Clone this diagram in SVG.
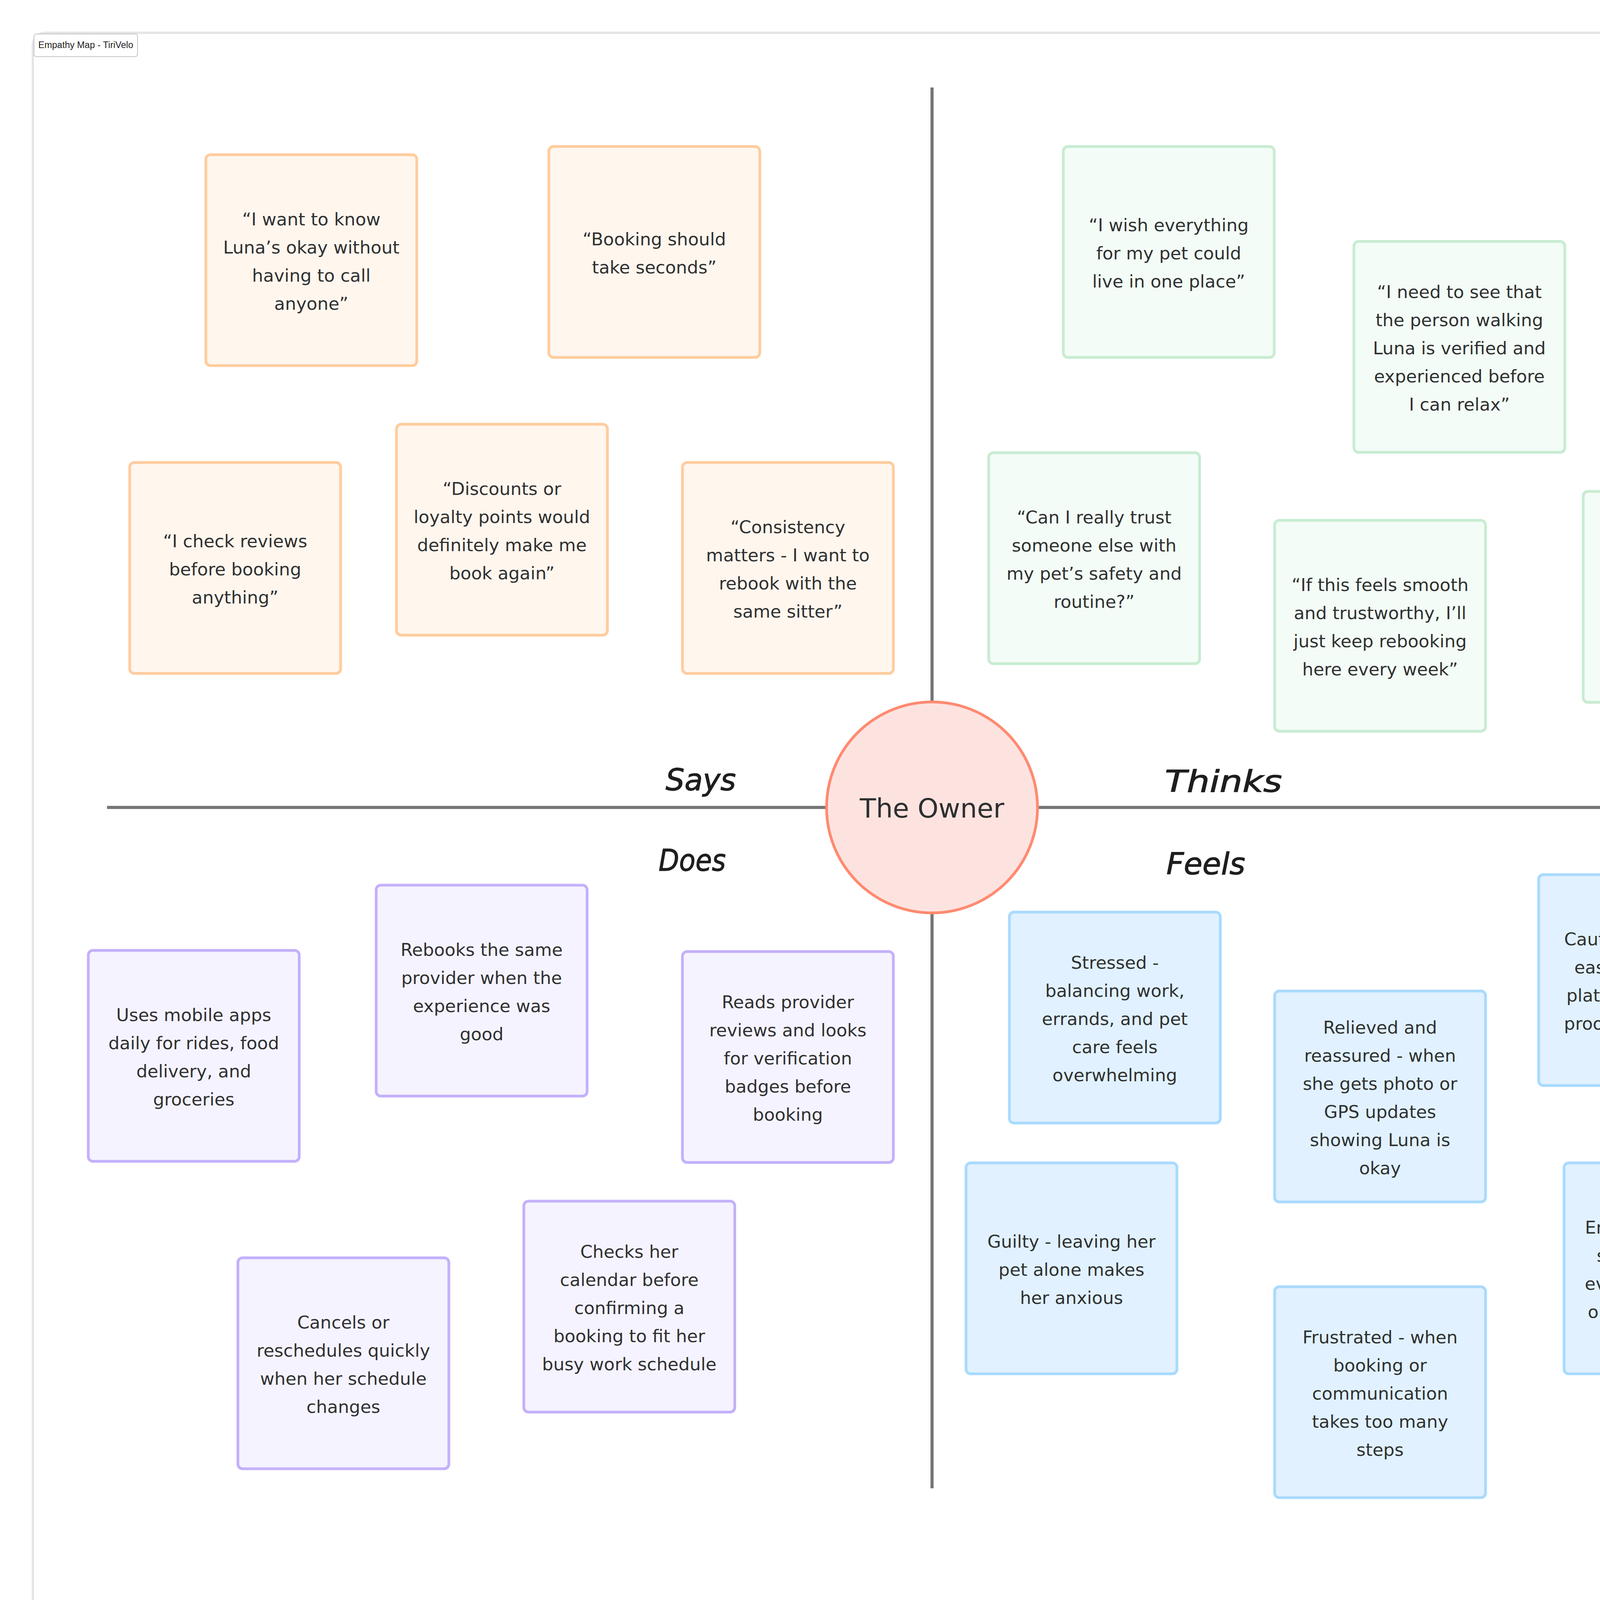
<svg xmlns="http://www.w3.org/2000/svg" width="4822" height="4626" viewBox="0 0 4822 4626">
<style>
.note rect{stroke-width:7}
.note text{font-family:"DejaVu Sans","Noto Sans",sans-serif;font-size:45px;fill:#2f3131;text-anchor:middle}
.says rect{fill:#fff6ee;stroke:#ffcc9e}
.thinks rect{fill:#f3fcf6;stroke:#c8ecd2}
.does rect{fill:#f5f3ff;stroke:#c4b0fb}
.feels rect{fill:#e1f1ff;stroke:#a9dafe}
.axis{stroke:#767676;stroke-width:8;fill:none}
.quad{font-family:"DejaVu Sans",sans-serif;font-style:oblique;font-size:76px;fill:#1e1e1e;stroke:#1e1e1e;stroke-width:1.5}
.para{font-family:"DejaVu Sans","Noto Sans",sans-serif;font-size:61px;fill:#1e1e1e;text-anchor:middle}
</style>
<rect width="4822" height="4626" fill="#ffffff"/>
<g id="frame">
<rect x="84" y="84" width="4654" height="4457" rx="32" fill="#ffffff" stroke="#e5e5e5" stroke-width="6"/>
<rect x="87" y="87" width="265" height="58" rx="6" fill="#ffffff" stroke="#c6c6c6" stroke-width="2"/>
<text x="98" y="123" font-family="Liberation Sans, Arial, sans-serif" font-size="23" fill="#1e1e1e" textLength="243" lengthAdjust="spacingAndGlyphs">Empathy Map - TiriVelo</text>
</g>
<g id="connectors">
<line class="axis" x1="2386" y1="224" x2="2386" y2="3810"/>
<line class="axis" x1="274" y1="2067" x2="4450" y2="2067"/>
</g>
<g id="owner">
<circle cx="2386" cy="2067" r="270" fill="#fde3e0" stroke="#ff8a70" stroke-width="7"/>
<text x="2386" y="2093" font-family="DejaVu Sans, sans-serif" font-size="68" fill="#2d2f2f" text-anchor="middle">The Owner</text>
</g>
<g id="quadrant-labels">
<text id="label-says" class="quad" x="1704" y="2023" textLength="180" lengthAdjust="spacingAndGlyphs">Says</text>
<text id="label-thinks" class="quad" x="2982" y="2027" textLength="300" lengthAdjust="spacingAndGlyphs">Thinks</text>
<text id="label-does" class="quad" x="1686" y="2229" textLength="172" lengthAdjust="spacingAndGlyphs">Does</text>
<text id="label-feels" class="quad" x="2986" y="2238" textLength="202" lengthAdjust="spacingAndGlyphs">Feels</text>
</g>
<g id="says-1" class="note says"><rect x="527" y="396" width="540" height="540" rx="12"/>
<text x="797" y="577">“I want to know</text><text x="797" y="649">Luna’s okay without</text><text x="797" y="721">having to call</text><text x="797" y="793">anyone”</text></g>
<g id="says-2" class="note says"><rect x="1405" y="375" width="540" height="540" rx="12"/>
<text x="1675" y="628">“Booking should</text><text x="1675" y="700">take seconds”</text></g>
<g id="says-3" class="note says"><rect x="332" y="1184" width="540" height="540" rx="12"/>
<text x="602" y="1401">“I check reviews</text><text x="602" y="1473">before booking</text><text x="602" y="1545">anything”</text></g>
<g id="says-4" class="note says"><rect x="1015" y="1086" width="540" height="540" rx="12"/>
<text x="1285" y="1267">“Discounts or</text><text x="1285" y="1339">loyalty points would</text><text x="1285" y="1411">definitely make me</text><text x="1285" y="1483">book again”</text></g>
<g id="says-5" class="note says"><rect x="1747" y="1184" width="540" height="540" rx="12"/>
<text x="2017" y="1365">“Consistency</text><text x="2017" y="1437">matters - I want to</text><text x="2017" y="1509">rebook with the</text><text x="2017" y="1581">same sitter”</text></g>
<g id="thinks-1" class="note thinks"><rect x="2722" y="375" width="540" height="540" rx="12"/>
<text x="2992" y="592">“I wish everything</text><text x="2992" y="664">for my pet could</text><text x="2992" y="736">live in one place”</text></g>
<g id="thinks-2" class="note thinks"><rect x="3466" y="618" width="540" height="540" rx="12"/>
<text x="3736" y="763">“I need to see that</text><text x="3736" y="835">the person walking</text><text x="3736" y="907">Luna is verified and</text><text x="3736" y="979">experienced before</text><text x="3736" y="1051">I can relax”</text></g>
<g id="thinks-3" class="note thinks"><rect x="2531" y="1159" width="540" height="540" rx="12"/>
<text x="2801" y="1340">“Can I really trust</text><text x="2801" y="1412">someone else with</text><text x="2801" y="1484">my pet’s safety and</text><text x="2801" y="1556">routine?”</text></g>
<g id="thinks-4" class="note thinks"><rect x="3263" y="1332" width="540" height="540" rx="12"/>
<text x="3533" y="1513">“If this feels smooth</text><text x="3533" y="1585">and trustworthy, I’ll</text><text x="3533" y="1657">just keep rebooking</text><text x="3533" y="1729">here every week”</text></g>
<g id="thinks-5" class="note thinks"><rect x="4053" y="1258" width="540" height="540" rx="12"/>
<text x="4323" y="1403">“I hope this app</text><text x="4323" y="1475">actually saves me</text><text x="4323" y="1547">time - I can’t afford</text><text x="4323" y="1619">to get stuck figuring</text><text x="4323" y="1691">things out”</text></g>
<g id="does-1" class="note does"><rect x="226" y="2433" width="540" height="540" rx="12"/>
<text x="496" y="2614">Uses mobile apps</text><text x="496" y="2686">daily for rides, food</text><text x="496" y="2758">delivery, and</text><text x="496" y="2830">groceries</text></g>
<g id="does-2" class="note does"><rect x="963" y="2266" width="540" height="540" rx="12"/>
<text x="1233" y="2447">Rebooks the same</text><text x="1233" y="2519">provider when the</text><text x="1233" y="2591">experience was</text><text x="1233" y="2663">good</text></g>
<g id="does-3" class="note does"><rect x="1747" y="2436" width="540" height="540" rx="12"/>
<text x="2017" y="2581">Reads provider</text><text x="2017" y="2653">reviews and looks</text><text x="2017" y="2725">for verification</text><text x="2017" y="2797">badges before</text><text x="2017" y="2869">booking</text></g>
<g id="does-4" class="note does"><rect x="609" y="3220" width="540" height="540" rx="12"/>
<text x="879" y="3401">Cancels or</text><text x="879" y="3473">reschedules quickly</text><text x="879" y="3545">when her schedule</text><text x="879" y="3617">changes</text></g>
<g id="does-5" class="note does"><rect x="1341" y="3075" width="540" height="540" rx="12"/>
<text x="1611" y="3220">Checks her</text><text x="1611" y="3292">calendar before</text><text x="1611" y="3364">confirming a</text><text x="1611" y="3436">booking to fit her</text><text x="1611" y="3508">busy work schedule</text></g>
<g id="feels-1" class="note feels"><rect x="2584" y="2335" width="540" height="540" rx="12"/>
<text x="2854" y="2480">Stressed -</text><text x="2854" y="2552">balancing work,</text><text x="2854" y="2624">errands, and pet</text><text x="2854" y="2696">care feels</text><text x="2854" y="2768">overwhelming</text></g>
<g id="feels-2" class="note feels"><rect x="3263" y="2537" width="540" height="540" rx="12"/>
<text x="3533" y="2646">Relieved and</text><text x="3533" y="2718">reassured - when</text><text x="3533" y="2790">she gets photo or</text><text x="3533" y="2862">GPS updates</text><text x="3533" y="2934">showing Luna is</text><text x="3533" y="3006">okay</text></g>
<g id="feels-3" class="note feels"><rect x="3939" y="2239" width="540" height="540" rx="12"/>
<text x="4209" y="2420">Cautious - doesn’t</text><text x="4209" y="2492">easily trust new</text><text x="4209" y="2564">platforms without</text><text x="4209" y="2636">proof of credibility</text></g>
<g id="feels-4" class="note feels"><rect x="2473" y="2977" width="540" height="540" rx="12"/>
<text x="2743" y="3194">Guilty - leaving her</text><text x="2743" y="3266">pet alone makes</text><text x="2743" y="3338">her anxious</text></g>
<g id="feels-5" class="note feels"><rect x="4004" y="2977" width="540" height="540" rx="12"/>
<text x="4274" y="3158">Empowered - when</text><text x="4274" y="3230">she can manage</text><text x="4274" y="3302">everything through</text><text x="4274" y="3374">one easy interface</text></g>
<g id="feels-6" class="note feels"><rect x="3263" y="3294" width="540" height="540" rx="12"/>
<text x="3533" y="3439">Frustrated - when</text><text x="3533" y="3511">booking or</text><text x="3533" y="3583">communication</text><text x="3533" y="3655">takes too many</text><text x="3533" y="3727">steps</text></g>
<g id="persona">
<text class="para" x="2411" y="4223" textLength="4312" lengthAdjust="spacing">Bella is a 32-year-old marketing professional living in downtown Toronto. She loves her Goldendoodle, Luna, but has a demanding job</text>
<text class="para" x="2412" y="4319" textLength="3921" lengthAdjust="spacing">and unpredictable hours. She values convenience, trust, and transparency in any service she uses - especially for her pet.</text>
</g>
</svg>
